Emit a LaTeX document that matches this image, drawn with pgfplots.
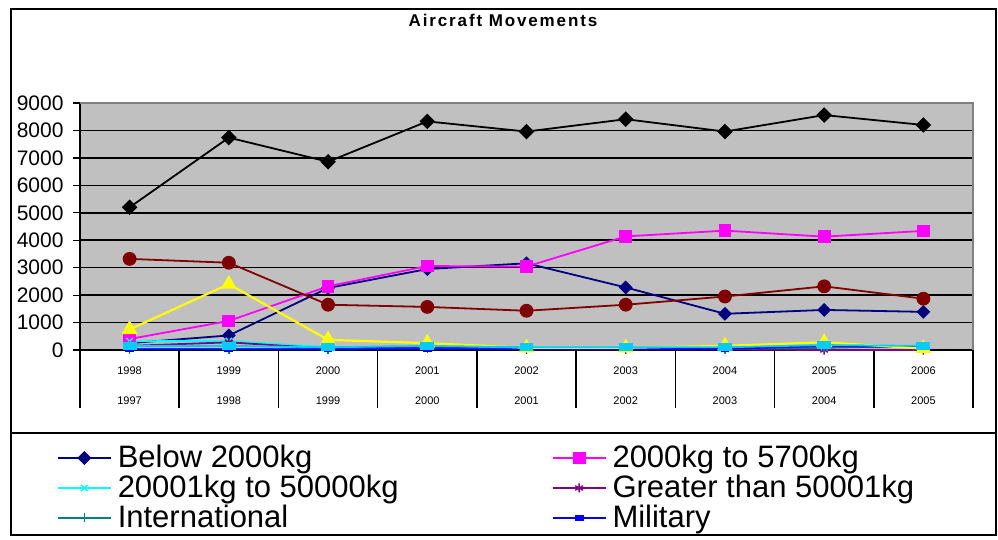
\documentclass[border=0pt]{standalone}
\usepackage{pgfplots}
\usepackage{pgfplotstable}
\pgfplotsset{compat=1.18}
\usepackage{fontspec}
\setmainfont{Liberation Sans}

\definecolor{plotgray}{HTML}{C0C0C0}
\definecolor{bordergray}{HTML}{808080}
\definecolor{cnavy}{HTML}{000080}
\definecolor{cmagenta}{HTML}{FF00FF}
\definecolor{cyellow}{HTML}{FFFF00}
\definecolor{ccyan}{HTML}{00FFFF}
\definecolor{cpurple}{HTML}{800080}
\definecolor{cmaroon}{HTML}{800000}
\definecolor{cteal}{HTML}{008080}
\definecolor{cblue}{HTML}{0000FF}
\definecolor{csky}{HTML}{00CCFF}

% aircraft movements per year (x = 0 ... 8 for 1998 ... 2006)
\pgfplotstableread{
x below to5700 to20000 to50000 over50001 intl mil total domestic other
0  250  400  750  320  150  30  30  5200 3320 150
1  530 1060 2400  330  280  30  30  7740 3180 150
2 2260 2320  370  100   50  30  30  6860 1650 100
3 2950 3060  250  150  100  40  30  8330 1570 150
4 3160 3040   80  100   20  50  30  7960 1430 100
5 2280 4140   80   80   20  80  30  8410 1650 100
6 1320 4350  150   80   20  50  40  7960 1950 100
7 1460 4130  280  100    0  80 150  8560 2320 180
8 1390 4340   50  120    0 150 100  8200 1870 150
}\movements

\begin{document}
\begin{tikzpicture}
\useasboundingbox (0pt,0pt) rectangle (998pt,539pt);

% chart frame and the rule above the legend
\draw[line width=2.2pt] (11pt,4pt) rectangle (996pt,530pt);
\draw[line width=1.6pt] (11pt,106pt) -- (996pt,106pt);

% title
\node[anchor=base, font=\fontsize{17}{17}\selectfont\bfseries\addfontfeature{LetterSpace=11}]
  at (503pt,512pt) {Aircraft Movements};

\begin{axis}[
  at={(80pt,189pt)}, anchor=south west,
  scale only axis, width=893pt, height=247pt,
  xmin=-0.5, xmax=8.5, ymin=0, ymax=9000,
  axis x line*=bottom, axis y line*=left,
  axis line style={black, line width=1.6pt},
  axis background/.style={fill=plotgray},
  ymajorgrids, grid style={black, line width=1.6pt},
  ytick={0,1000,...,9000},
  scaled y ticks=false,
  /pgf/number format/assume math mode=true,
  /pgf/number format/1000 sep={},
  yticklabel style={font=\fontsize{21}{21}\selectfont, xshift=-6pt},
  tick align=outside, major tick length=7pt,
  ytick style={black, line width=1.2pt},
  xtick={0,...,8},
  xtick style={draw=none},
  xticklabels={{1998\\1997},{1999\\1998},{2000\\1999},{2001\\2000},{2002\\2001},
               {2003\\2002},{2004\\2003},{2005\\2004},{2006\\2005}},
  xticklabel style={align=center, font=\fontsize{11}{30}\selectfont, yshift=-6pt},
  clip=false,
  every axis plot/.append style={line width=1.8pt},
  legend columns=2,
  legend cell align=left,
  legend image code/.code={\draw[mark repeat=2,mark phase=2,#1]
      plot coordinates {(0pt,0pt) (26.5pt,0pt) (53pt,0pt)};},
  legend style={
    at={(-0.0258,-0.3765)}, anchor=north west,
    draw=none, fill=none, inner sep=0pt, outer sep=0pt, row sep=0pt,
    font=\fontsize{31}{31}\selectfont,
    nodes={inner ysep=0pt, inner xsep=6pt, text height=25pt, text depth=5pt},
    /tikz/every even column/.append style={column sep=147pt},
  },
]
% category separators below the plot area
\pgfplotsinvokeforeach{-0.5,0.5,1.5,2.5,3.5,4.5,5.5,6.5,7.5,8.5}{
  \draw[black, line width=1.6pt] (axis cs:#1,0) -- ++(0pt,-58pt);
}

\addplot[color=cnavy, mark=square*, mark size=4pt, mark options={rotate=45}]
  table[x=x, y=below] {\movements};
\addlegendentry{Below 2000kg}
\addplot[color=cmagenta, mark=square*, mark size=5.5pt]
  table[x=x, y=to5700] {\movements};
\addlegendentry{2000kg to 5700kg}
\addplot[color=ccyan, mark=x, mark size=4.5pt, mark options={line width=1.4pt}]
  table[x=x, y=to50000] {\movements};
\addlegendentry{20001kg to 50000kg}
\addplot[color=cpurple, mark=asterisk, mark size=4.5pt, mark options={line width=1.4pt}]
  table[x=x, y=over50001] {\movements};
\addlegendentry{Greater than 50001kg}
\addplot[color=cteal, mark=+, mark size=4.5pt, mark options={line width=1.4pt}]
  table[x=x, y=intl] {\movements};
\addlegendentry{International}
\addplot[color=cblue, mark=square*, mark size=3.5pt, mark options={yscale=0.5}]
  table[x=x, y=mil] {\movements};
\addlegendentry{Military}

% remaining series
\addplot[forget plot, color=cyellow, line width=2.2pt, mark=triangle*, mark size=7pt]
  table[x=x, y=to20000] {\movements};
\addplot[forget plot, color=cmaroon, mark=*, mark size=6pt]
  table[x=x, y=domestic] {\movements};
\addplot[forget plot, color=csky, mark=square*, mark size=6pt, mark options={yscale=0.55}]
  table[x=x, y=other] {\movements};
\addplot[forget plot, color=black, mark=square*, mark size=4.6pt, mark options={rotate=45}]
  table[x=x, y=total] {\movements};

% plot area border, top and right
\draw[bordergray, line width=1.4pt] (rel axis cs:0,1) -- (rel axis cs:1,1) -- (rel axis cs:1,0);
\end{axis}
\end{tikzpicture}
\end{document}
